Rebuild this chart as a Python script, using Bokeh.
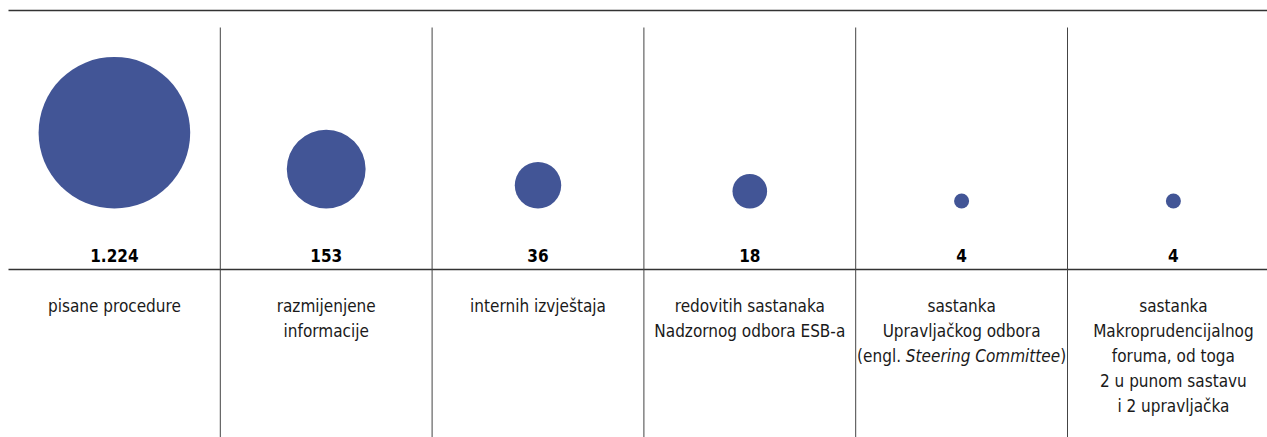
from bokeh.plotting import figure
from bokeh.models import Range1d, ColumnDataSource
from bokeh.core.properties import value
from bokeh.embed import file_html
from bokeh.resources import INLINE

# ---- data ----
values = [1224, 153, 36, 18, 4, 4]
labels = [
    "pisane procedure",
    "razmijenjene\ninformacije",
    "internih izvještaja",
    "redovitih sastanaka\nNadzornog odbora ESB-a",
    "sastanka\nUpravljačkog odbora\n(engl. *Steering Committee*)",
    "sastanka\nMakroprudencijalnog\nforuma, od toga\n2 u punom sastavu\ni 2 upravljačka",
]

# ---- layout / style ----
W, H = 1267, 437
X0 = 8
COL_W = 211.8
FONT = "DejaVu Sans Condensed"
CIRCLE = "#425596"
TEXT = "#1a1a1a"
FS = 17
VFS = 17
LINE_H = 25
BASE_Y = 208      # bottom of circles (px from top)
VAL_Y = 255       # baseline of value labels
LAB_Y = 305       # baseline of first label line
SEP_TOP = 27


def size_scale(v):
    # visual size scale (diameter, px)
    return 30.35 * v ** 0.25 - 27.9


n = len(values)
xs = [X0 + (i + 0.5) * COL_W for i in range(n)]
seps = [X0 + i * COL_W for i in range(1, n)]
diam = [size_scale(v) for v in values]
cy = [BASE_Y - d / 2 for d in diam]

p = figure(width=W, height=H, output_backend="svg", toolbar_location=None,
           x_range=Range1d(0, W), y_range=Range1d(H, 0),
           min_border=0, outline_line_color=None)
p.axis.visible = False
p.grid.visible = False
p.background_fill_color = "white"
p.border_fill_color = "white"

# rules
p.segment(x0=[X0, X0], y0=[10, 269], x1=[W, W], y1=[10, 269],
          line_color="#333333", line_width=1.5)
p.segment(x0=seps, y0=[SEP_TOP] * len(seps), x1=seps, y1=[H] * len(seps),
          line_color="#444444", line_width=1)

# circles
src = ColumnDataSource(dict(x=xs, y=cy, d=diam,
                            lab=[f"{v:,}".replace(",", ".") for v in values]))
p.scatter(x="x", y="y", size="d", marker="circle", source=src,
          fill_color=CIRCLE, line_color=None)

# value labels
p.text(x="x", y=VAL_Y, text="lab", source=src, text_align="center",
       text_baseline="alphabetic", text_font=value(FONT),
       text_font_style="bold", text_font_size=f"{VFS}px", text_color="black")

# category labels (line by line)
plain_x, plain_y, plain_t = [], [], []
for i, lab in enumerate(labels):
    for j, line in enumerate(lab.split("\n")):
        y = LAB_Y + j * LINE_H
        if "*" in line:
            pre, ital, post = line.split("*")
            # approximate widths in em for centring the mixed-style line
            e_pre, e_sp, e_it, e_post = 2.583, 0.286, 9.075, 0.351
            total = (e_pre + e_sp + e_it + e_post) * FS
            left = xs[i] - total / 2
            it_left = left + (e_pre + e_sp) * FS
            it_right = it_left + e_it * FS
            p.text(x=[it_left - e_sp * FS], y=[y], text=[pre.strip()],
                   text_align="right", text_baseline="alphabetic",
                   text_font=value(FONT), text_font_size=f"{FS}px", text_color=TEXT)
            p.text(x=[it_left], y=[y], text=[ital],
                   text_align="left", text_baseline="alphabetic",
                   text_font=value(FONT), text_font_style="italic",
                   text_font_size=f"{FS}px", text_color=TEXT)
            p.text(x=[it_right], y=[y], text=[post],
                   text_align="left", text_baseline="alphabetic",
                   text_font=value(FONT), text_font_size=f"{FS}px", text_color=TEXT)
        else:
            plain_x.append(xs[i])
            plain_y.append(y)
            plain_t.append(line)

p.text(x=plain_x, y=plain_y, text=plain_t, text_align="center",
       text_baseline="alphabetic", text_font=value(FONT),
       text_font_size=f"{FS}px", text_color=TEXT)

open("out.html", "w").write(file_html(p, INLINE))
